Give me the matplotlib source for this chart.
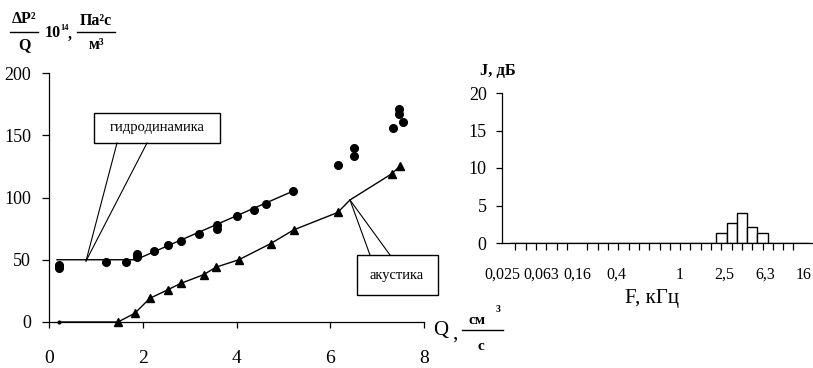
import matplotlib
matplotlib.use("Agg")
import matplotlib.pyplot as plt
from matplotlib.lines import Line2D
from matplotlib.patches import Rectangle

plt.rcParams['font.family'] = ['Liberation Serif', 'DejaVu Serif']

# --- Left panel: specific resistance vs flow rate ---
# hydrodynamic measurements (circles)
hydro_q = [0.21, 0.21, 1.22, 1.64, 1.88, 1.88, 2.24, 2.54, 2.81, 3.2, 3.58, 3.58, 4.01, 4.37, 4.63, 5.2]
hydro_v = [46, 43, 48, 48, 55, 52, 57, 62, 65, 71, 78, 75, 85, 90, 95, 105]
# hydrodynamic points beyond the fitted range
hydro_extra_q = [6.16, 6.5, 6.5, 7.33, 7.46, 7.46, 7.55]
hydro_extra_v = [126, 140, 133, 156, 171, 167, 161]
# piecewise fit through the hydrodynamic data
hydro_fit_q = [0.17, 1.85, 5.2]
hydro_fit_v = [50, 50, 105]

# acoustic measurements (triangles)
acoustic_q = [1.47, 1.83, 2.15, 2.54, 2.81, 3.3, 3.56, 4.05, 4.73, 5.22, 6.16, 7.31, 7.48]
acoustic_v = [0, 7, 19, 26, 31, 38, 44, 50, 63, 74, 88, 119, 125]
# curve through the acoustic data
acoustic_fit_q = [0.21, 1.47, 1.83, 2.15, 2.54, 2.81, 3.3, 3.56, 4.05, 4.73, 5.22, 6.16, 6.42, 7.31, 7.48]
acoustic_fit_v = [0, 0, 7, 19, 26, 31, 38, 44, 50, 63, 74, 88, 98, 119, 125]

q_ticks = [0, 2, 4, 6, 8]
v_ticks = [0, 50, 100, 150, 200]

# --- Right panel: one-third octave spectrum ---
freq_bands = ["0,025", "0,0315", "0,04", "0,05", "0,063", "0,08", "0,1", "0,125",
              "0,16", "0,2", "0,25", "0,315", "0,4", "0,5", "0,63", "0,8",
              "1", "1,25", "1,6", "2", "2,5", "3,15", "4", "5", "6,3", "8",
              "10", "12,5", "16"]
levels_db = [0, 0, 0, 0, 0, 0, 0, 0, 0, 0, 0, 0, 0, 0, 0, 0,
             0, 0, 0, 0, 1.4, 2.7, 4.0, 2.1, 1.3, 0, 0, 0, 0]
labelled_bands = ["0,025", "0,063", "0,16", "0,4", "1", "2,5", "6,3", "16"]
# horizontal nudges of the band labels (category units)
label_shift = [-1.3, -1.5, -2.0, -2.2, -0.1, 0.3, 0.3, 0.0]
db_ticks = [0, 5, 10, 15, 20]

W, H = 813, 368
fig = plt.figure(figsize=(W / 100, H / 100), dpi=100)


def fx(px):
    return px / W


def fy(py):
    return 1 - py / H


# ---------------- left axes ----------------
ax1 = fig.add_axes([fx(49), fy(322), (424 - 49) / W, (322 - 73) / H])
ax1.plot(hydro_fit_q, hydro_fit_v, color='black', lw=1.0)
ax1.plot(acoustic_fit_q, acoustic_fit_v, color='black', lw=1.0)
ax1.plot(hydro_q, hydro_v, 'o', color='black', ms=5.5, clip_on=False)
ax1.plot(hydro_extra_q, hydro_extra_v, 'o', color='black', ms=5.5, clip_on=False)
ax1.plot(acoustic_q, acoustic_v, '^', color='black', ms=6, clip_on=False)
ax1.plot([acoustic_fit_q[0]], [acoustic_fit_v[0]], '.', color='black', ms=4, clip_on=False)

ax1.set_xlim(0, 8)
ax1.set_ylim(0, 200)
ax1.set_xticks(q_ticks)
ax1.set_yticks(v_ticks)
ax1.set_xticklabels([str(t) for t in q_ticks])
ax1.set_yticklabels([str(t) for t in v_ticks])
for s in ['top', 'right']:
    ax1.spines[s].set_visible(False)
for s in ['left', 'bottom']:
    ax1.spines[s].set_linewidth(0.9)
ax1.tick_params(axis='x', direction='out', length=4, width=0.9, pad=16, labelsize=14)
ax1.tick_params(axis='y', direction='out', length=5, width=0.9, pad=8, labelsize=13)

# ---------------- right axes ----------------
ax2 = fig.add_axes([fx(502), fy(243), 310 / W, 150 / H])
cats = list(range(len(freq_bands)))
ax2.bar(cats, levels_db, width=1.0, color='white', edgecolor='black', linewidth=1.0)
ax2.set_xlim(0, 28.8)
ax2.set_ylim(0, 20)
ax2.set_yticks(db_ticks)
ax2.set_yticklabels([str(t) for t in db_ticks])
ax2.set_xticks(cats, minor=True)
lab_pos = [freq_bands.index(b) + d for b, d in zip(labelled_bands, label_shift)]
ax2.set_xticks(lab_pos)
ax2.set_xticklabels(labelled_bands)
for s in ['top', 'right']:
    ax2.spines[s].set_visible(False)
for s in ['left', 'bottom']:
    ax2.spines[s].set_linewidth(0.9)
ax2.tick_params(axis='x', which='major', length=0, pad=17, labelsize=11.5)
ax2.tick_params(axis='x', which='minor', direction='out', length=5, width=0.9)
ax2.tick_params(axis='y', direction='out', length=4, width=0.9, pad=7, labelsize=13)

# ---------------- axis titles ----------------
bold = dict(fontweight='bold', ha='center', va='center')
fig.text(fx(24), fy(19), "ΔP²", fontsize=11.5, **bold)
fig.add_artist(Line2D([fx(10), fx(38)], [fy(32), fy(32)], color='black', lw=1.0))
fig.text(fx(24), fy(45), "Q", fontsize=11.5, **bold)
fig.text(fx(45), fy(33), "10", fontsize=11.5, fontweight='bold', ha='left', va='center')
fig.text(fx(60), fy(28), "14", fontsize=6, fontweight='bold', ha='left', va='center')
fig.text(fx(68), fy(35), ",", fontsize=11.5, fontweight='bold', ha='left', va='center')
fig.text(fx(96), fy(21), "Па²с", fontsize=11.5, **bold)
fig.add_artist(Line2D([fx(77), fx(115)], [fy(32), fy(32)], color='black', lw=1.0))
fig.text(fx(96), fy(45), "м³", fontsize=11.5, **bold)

fig.text(fx(498), fy(71), "J, дБ", fontsize=12, **bold)
fig.text(fx(652), fy(298), "F, кГц", fontsize=15, ha='center', va='center')

fig.text(fx(441), fy(330), "Q", fontsize=15, ha='center', va='center')
fig.text(fx(455), fy(334), ",", fontsize=15, ha='center', va='center')
fig.text(fx(477), fy(320), "см", fontsize=11, **bold)
fig.text(fx(498), fy(309), "3", fontsize=7, **bold)
fig.add_artist(Line2D([fx(462), fx(503)], [fy(330), fy(330)], color='black', lw=1.0))
fig.text(fx(481), fy(347), "с", fontsize=11, **bold)

# ---------------- callouts ----------------
fig.add_artist(Rectangle((fx(94), fy(143)), (220 - 94) / W, (143 - 113) / H,
                         facecolor='white', edgecolor='black', lw=1.0))
fig.text(fx(157), fy(128), "гидродинамика", fontsize=10.5, ha='center', va='center')
for x0 in (117, 147):
    fig.add_artist(Line2D([fx(x0), fx(86)], [fy(143), fy(261)], color='black', lw=0.8))

fig.add_artist(Rectangle((fx(357), fy(295)), (438 - 357) / W, (295 - 255) / H,
                         facecolor='white', edgecolor='black', lw=1.0))
fig.text(fx(397), fy(275), "акустика", fontsize=10.5, ha='center', va='center')
for x0 in (370, 390):
    fig.add_artist(Line2D([fx(x0), fx(350)], [fy(255), fy(200)], color='black', lw=0.8))

fig.savefig("out.png", dpi=100)
